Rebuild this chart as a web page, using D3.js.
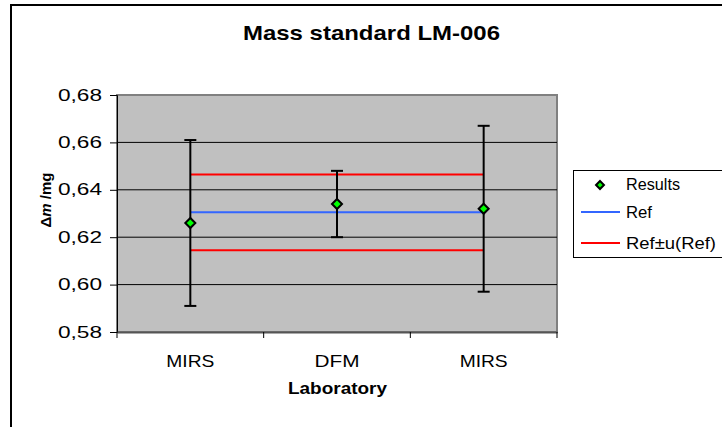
<!DOCTYPE html>
<html>
<head>
<meta charset="utf-8">
<script src="https://cdn.jsdelivr.net/npm/d3@7"></script>
<style>
body { margin:0; background:#fff; }
svg { display:block; font-family:"Liberation Sans", Arial, sans-serif; }
</style>
</head>
<body>
<svg width="722" height="427"></svg>
<script>
// data
var labs = ['MIRS', 'DFM', 'MIRS'];
var results = [0.626, 0.634, 0.632];
var uncert = [0.035, 0.014, 0.035];
var refValue = [0.6305];
var refU = [0.016];
var yTicks = [0.58, 0.60, 0.62, 0.64, 0.66, 0.68];
var legTexts = ['Results', 'Ref', 'Ref±u(Ref)'];

var svg = d3.select('svg');
var pLeft = 117, pRight = 557, pTop = 95, pBottom = 332;
var ff = '"Liberation Sans", Arial, sans-serif';

var fmt = d3.formatLocale({decimal: ',', thousands: '.', grouping: [3], currency: ['', '']}).format('.2f');

// outer frame
svg.append('rect').attr('x', 11).attr('y', 5).attr('width', 740).attr('height', 440)
  .attr('fill', '#fff').attr('stroke', '#000').attr('stroke-width', 2);

var x = d3.scaleBand().domain(d3.range(labs.length)).range([pLeft, pRight]).padding(0);
var y = d3.scaleLinear().domain([0.58, 0.68]).range([pBottom, pTop]);

// plot area
svg.append('rect').attr('x', pLeft).attr('y', pTop).attr('width', pRight - pLeft).attr('height', pBottom - pTop)
  .attr('fill', '#C0C0C0').attr('stroke', '#808080').attr('stroke-width', 2);

// gridlines
svg.selectAll('.grid').data(yTicks.slice(1, -1)).enter().append('line')
  .attr('x1', pLeft).attr('x2', pRight)
  .attr('y1', function(d) { return y(d); }).attr('y2', function(d) { return y(d); })
  .attr('stroke', '#000').attr('stroke-width', 1);

// y axis
var yAxis = d3.axisLeft(y).tickValues(yTicks).tickFormat(fmt).tickSize(7).tickPadding(8);
var gy = svg.append('g').attr('transform', 'translate(' + pLeft + ',0)').call(yAxis);
gy.select('.domain').attr('stroke', '#000').attr('stroke-width', 1);
gy.selectAll('text').attr('font-size', 16).attr('fill', '#000').attr('font-family', ff)
  .attr('textLength', 44).attr('lengthAdjust', 'spacingAndGlyphs');

// x axis
var xAxis = d3.axisBottom(x).tickFormat(function(i) { return labs[i]; }).tickSize(0).tickPadding(23);
var gx = svg.append('g').attr('transform', 'translate(0,' + pBottom + ')').call(xAxis);
gx.select('.domain').attr('stroke', '#555').attr('stroke-width', 2);
gx.selectAll('text').attr('font-size', 17).attr('fill', '#000').attr('font-family', ff)
  .attr('textLength', function(i) { return labs[i] === 'DFM' ? 45 : 48; }).attr('lengthAdjust', 'spacingAndGlyphs');
var xt = d3.range(labs.length + 1).map(function(i) { return pLeft + i * x.bandwidth(); });
svg.selectAll('.xtick').data(xt).enter().append('line')
  .attr('x1', function(d) { return d; }).attr('x2', function(d) { return d; })
  .attr('y1', pBottom).attr('y2', pBottom + 6).attr('stroke', '#000');

function cx(i) { return x(i) + x.bandwidth() / 2; }

// reference lines
var x1 = cx(0), x2 = cx(labs.length - 1);
var refLines = [
  {v: refValue[0] + refU[0], c: '#FF0000'},
  {v: refValue[0] - refU[0], c: '#FF0000'},
  {v: refValue[0], c: '#3366FF'}
];
svg.selectAll('.ref').data(refLines).enter().append('line')
  .attr('x1', x1).attr('x2', x2)
  .attr('y1', function(d) { return y(d.v); }).attr('y2', function(d) { return y(d.v); })
  .attr('stroke', function(d) { return d.c; }).attr('stroke-width', 2);

// error bars
var eb = svg.selectAll('.eb').data(results).enter().append('g');
eb.append('line').attr('x1', function(d, i) { return cx(i); }).attr('x2', function(d, i) { return cx(i); })
  .attr('y1', function(d, i) { return y(d + uncert[i]); }).attr('y2', function(d, i) { return y(d - uncert[i]); })
  .attr('stroke', '#000').attr('stroke-width', 2);
eb.append('line').attr('x1', function(d, i) { return cx(i) - 6; }).attr('x2', function(d, i) { return cx(i) + 6; })
  .attr('y1', function(d, i) { return y(d + uncert[i]); }).attr('y2', function(d, i) { return y(d + uncert[i]); })
  .attr('stroke', '#000').attr('stroke-width', 2);
eb.append('line').attr('x1', function(d, i) { return cx(i) - 6; }).attr('x2', function(d, i) { return cx(i) + 6; })
  .attr('y1', function(d, i) { return y(d - uncert[i]); }).attr('y2', function(d, i) { return y(d - uncert[i]); })
  .attr('stroke', '#000').attr('stroke-width', 2);

// markers
var diamond = d3.symbol().type(d3.symbolDiamond2);
svg.selectAll('.pt').data(results).enter().append('path')
  .attr('d', diamond.size(64)())
  .attr('transform', function(d, i) { return 'translate(' + cx(i) + ',' + y(d) + ')'; })
  .attr('fill', '#00FF00').attr('stroke', '#000').attr('stroke-width', 2);

// title
svg.append('text').attr('x', 243).attr('y', 40)
  .attr('font-size', 21).attr('font-weight', 'bold')
  .attr('textLength', 257).attr('lengthAdjust', 'spacingAndGlyphs').text('Mass standard LM-006');

// axis titles
svg.append('text').attr('x', 288).attr('y', 394)
  .attr('font-size', 17).attr('font-weight', 'bold')
  .attr('textLength', 99).attr('lengthAdjust', 'spacingAndGlyphs').text('Laboratory');
var yt = svg.append('text').attr('transform', 'translate(51,200) rotate(-90)')
  .attr('text-anchor', 'middle').attr('font-size', 15).attr('font-weight', 'bold');
yt.append('tspan').text('Δ');
yt.append('tspan').attr('font-style', 'italic').text('m');
yt.append('tspan').text(' /mg');

// legend
svg.append('rect').attr('x', 573.5).attr('y', 170.5).attr('width', 160).attr('height', 87)
  .attr('fill', '#fff').attr('stroke', '#000').attr('stroke-width', 1);
svg.append('path').attr('d', diamond.size(40)()).attr('transform', 'translate(600,185)')
  .attr('fill', '#00FF00').attr('stroke', '#000').attr('stroke-width', 2);
svg.append('line').attr('x1', 581).attr('x2', 620).attr('y1', 212).attr('y2', 212).attr('stroke', '#3366FF').attr('stroke-width', 2);
svg.append('line').attr('x1', 581).attr('x2', 620).attr('y1', 243).attr('y2', 243).attr('stroke', '#FF0000').attr('stroke-width', 2);
svg.selectAll('.lt').data(legTexts).enter().append('text')
  .attr('x', 626)
  .attr('y', function(d, i) { return [190, 218, 249][i]; })
  .attr('font-size', 16)
  .attr('textLength', function(d, i) { return [54, 26, 90][i]; }).attr('lengthAdjust', 'spacingAndGlyphs')
  .text(function(d) { return d; });
</script>
</body>
</html>
